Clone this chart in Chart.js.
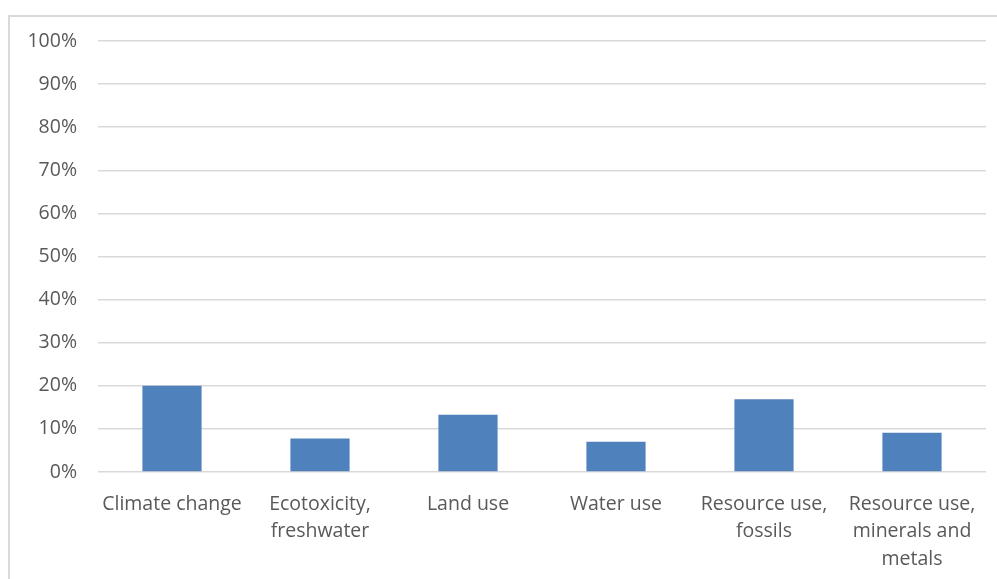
<!DOCTYPE html>
<html>
<head>
<meta charset="utf-8">
<script src="https://cdn.jsdelivr.net/npm/chart.js@4"></script>
<style>
  html, body { margin: 0; padding: 0; background: #fff; }
  #wrap { width: 997px; height: 579px; }
</style>
</head>
<body>
<div id="wrap"><canvas id="impactChart" width="997" height="579"></canvas></div>
<script>
// categories and values
const categories = [
    'Climate change',
    ['Ecotoxicity,', 'freshwater'],
    'Land use',
    'Water use',
    ['Resource use,', 'fossils'],
    ['Resource use,', 'minerals and', 'metals']
]
const shares = [20.0, 7.8, 13.3, 7.0, 16.9, 9.1]
const yTicks = [0, 10, 20, 30, 40, 50, 60, 70, 80, 90, 100]

// light frame around the chart, like the office chart border
const frame = {
    id: 'frame',
    beforeDraw(chart) {
        const c = chart.ctx
        c.save()
        c.strokeStyle = '#d9d9d9'
        c.lineWidth = 2
        c.strokeRect(9, 16, 1000, 600)
        c.restore()
    }
}

const ctx = document.getElementById('impactChart');
const impactChart = new Chart(ctx, {
    type: 'bar',
    data: {
        labels: categories,
        datasets: [{
            data: shares,
            backgroundColor: '#4f81bd',
            borderWidth: 0,
            categoryPercentage: 1,
            barPercentage: 0.4,
        }]
    },
    options: {
        responsive: false,
        animation: false,
        layout: { padding: { left: 0, right: 11, top: 41, bottom: 0 } },
        plugins: {
            legend: { display: false },
            tooltip: { enabled: false },
        },
        scales: {
            x: {
                grid: { display: false, drawTicks: false },
                border: { display: false },
                ticks: {
                    color: '#595959',
                    font: { family: 'Open Sans', size: 19.5, lineHeight: 1.43 },
                    padding: 18,
                    maxRotation: 0,
                    autoSkip: false,
                },
                afterFit(scale) { scale.height = 579 - 472 }
            },
            y: {
                min: 0,
                max: 100,
                afterBuildTicks(scale) { scale.ticks = yTicks.map(v => ({ value: v })) },
                grid: { color: '#d9d9d9', lineWidth: 1.5, drawTicks: false },
                border: { display: false },
                ticks: {
                    color: '#595959',
                    font: { family: 'Open Sans', size: 19.5 },
                    padding: 21,
                    callback: v => v + '%',
                },
                afterFit(scale) { scale.width = 98 }
            }
        }
    },
    plugins: [frame]
});
</script>
</body>
</html>
